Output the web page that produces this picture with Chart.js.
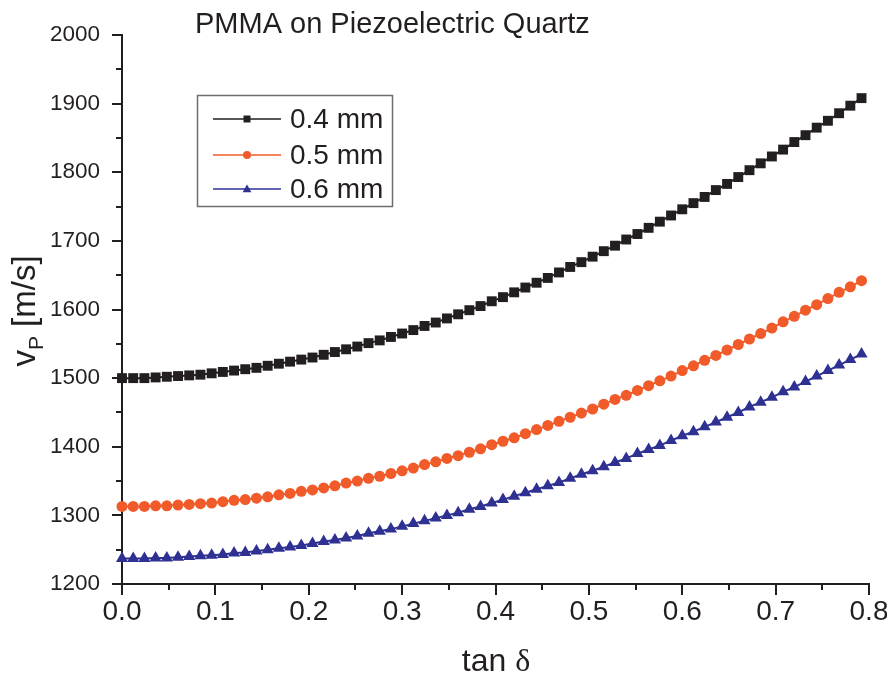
<!DOCTYPE html>
<html>
<head>
<meta charset="utf-8">
<script src="https://cdn.jsdelivr.net/npm/chart.js@4.4.1/dist/chart.umd.min.js"></script>
<style>
  body { margin: 0; background: #fff; }
  canvas { display: block; }
</style>
</head>
<body>
<canvas id="vpChart" width="887" height="677"></canvas>
<script>
// tan delta values (x)
const tanDelta = [
    0.000, 0.012, 0.024, 0.036, 0.048, 0.060, 0.072, 0.084, 0.096, 0.108,
    0.120, 0.132, 0.144, 0.156, 0.168, 0.180, 0.192, 0.204, 0.216, 0.228,
    0.240, 0.252, 0.264, 0.276, 0.288, 0.300, 0.312, 0.324, 0.336, 0.348,
    0.360, 0.372, 0.384, 0.396, 0.408, 0.420, 0.432, 0.444, 0.456, 0.468,
    0.480, 0.492, 0.504, 0.516, 0.528, 0.540, 0.552, 0.564, 0.576, 0.588,
    0.600, 0.612, 0.624, 0.636, 0.648, 0.660, 0.672, 0.684, 0.696, 0.708,
    0.720, 0.732, 0.744, 0.756, 0.768, 0.780, 0.792
];

// vP [m/s] for each thickness
const vp04 = [
    1500, 1500, 1500, 1501, 1502, 1503, 1504, 1505, 1507, 1509,
    1511, 1513, 1515, 1518, 1521, 1524, 1527, 1530, 1534, 1538,
    1542, 1546, 1551, 1555, 1560, 1565, 1570, 1576, 1581, 1587,
    1593, 1599, 1605, 1612, 1618, 1625, 1632, 1639, 1646, 1654,
    1662, 1669, 1677, 1685, 1693, 1702, 1710, 1719, 1728, 1737,
    1746, 1755, 1764, 1774, 1783, 1793, 1803, 1813, 1823, 1833,
    1844, 1854, 1865, 1875, 1886, 1897, 1908
];
const vp05 = [
    1313, 1313, 1313, 1314, 1314, 1315, 1316, 1317, 1318, 1320,
    1322, 1323, 1325, 1327, 1330, 1332, 1335, 1337, 1340, 1343,
    1347, 1350, 1354, 1357, 1361, 1365, 1369, 1374, 1378, 1383,
    1387, 1392, 1397, 1403, 1408, 1413, 1419, 1425, 1431, 1437,
    1443, 1449, 1455, 1462, 1469, 1475, 1482, 1489, 1496, 1503,
    1511, 1518, 1526, 1533, 1541, 1549, 1557, 1565, 1573, 1582,
    1590, 1599, 1607, 1616, 1625, 1633, 1642
];
const vp06 = [
    1237, 1237, 1237, 1238, 1238, 1239, 1240, 1241, 1242, 1243,
    1245, 1246, 1248, 1250, 1252, 1254, 1256, 1259, 1262, 1264,
    1267, 1270, 1274, 1277, 1280, 1284, 1288, 1292, 1296, 1300,
    1304, 1309, 1313, 1318, 1323, 1328, 1333, 1338, 1343, 1348,
    1354, 1360, 1365, 1371, 1377, 1383, 1390, 1396, 1402, 1409,
    1416, 1422, 1429, 1436, 1443, 1450, 1458, 1465, 1472, 1480,
    1487, 1495, 1503, 1511, 1519, 1527, 1535
];

const seriesLabels = ['0.4 mm', '0.5 mm', '0.6 mm'];
const seriesColors = ['#231f20', '#f15a29', '#2e3192'];
const seriesStyles = ['rect', 'circle', 'triangle'];
const seriesRadius = [7, 5.5, 7];

const axisColor = '#231f20';

const toPoints = (ys) => tanDelta.map((x, i) => ({ x: x, y: ys[i] }));

// outward tick marks, long for labelled ticks, short for the ones between
const tickMarks = {
    id: 'tickMarks',
    afterDraw(chart) {
        const ctx = chart.ctx;
        const xs = chart.scales.x;
        const ys = chart.scales.y;
        ctx.save();
        ctx.strokeStyle = axisColor;
        ctx.lineWidth = 2;
        ys.ticks.forEach(t => {
            const py = Math.round(ys.getPixelForValue(t.value));
            const len = (Math.round(t.value) % 100 === 0) ? 10 : 6;
            ctx.beginPath();
            ctx.moveTo(ys.right - len, py);
            ctx.lineTo(ys.right, py);
            ctx.stroke();
        });
        xs.ticks.forEach(t => {
            const px = Math.round(xs.getPixelForValue(t.value));
            const major = Math.abs(t.value * 10 - Math.round(t.value * 10)) < 1e-6;
            ctx.beginPath();
            ctx.moveTo(px, xs.top);
            ctx.lineTo(px, xs.top + (major ? 11 : 6));
            ctx.stroke();
        });
        ctx.restore();
    }
};

function drawMarker(ctx, style, x, y, r) {
    ctx.beginPath();
    if (style === 'rect') {
        ctx.rect(x - r, y - r, 2 * r, 2 * r);
    } else if (style === 'circle') {
        ctx.arc(x, y, r, 0, Math.PI * 2);
    } else {
        ctx.moveTo(x, y - r * 1.1);
        ctx.lineTo(x + r * 1.1, y + r * 0.8);
        ctx.lineTo(x - r * 1.1, y + r * 0.8);
        ctx.closePath();
    }
    ctx.fill();
}

// titles, y label with subscript, boxed legend
const annotations = {
    id: 'annotations',
    afterDraw(chart) {
        const ctx = chart.ctx;
        ctx.save();
        ctx.fillStyle = axisColor;
        ctx.textBaseline = 'alphabetic';
        ctx.textAlign = 'left';

        ctx.font = '29px "Liberation Sans", Arial, sans-serif';
        ctx.fillText('PMMA on Piezoelectric Quartz', 195, 33);

        // x axis title
        ctx.font = '32px "Liberation Sans Narrow", "Liberation Sans", sans-serif';
        const tanW = ctx.measureText('tan ').width;
        ctx.font = '32px "Liberation Serif", "DejaVu Serif", serif';
        const dW = ctx.measureText('δ').width;
        const x0 = 496 - (tanW + dW) / 2;
        ctx.font = '32px "Liberation Sans Narrow", "Liberation Sans", sans-serif';
        ctx.fillText('tan ', x0, 671);
        ctx.font = '32px "Liberation Serif", "DejaVu Serif", serif';
        ctx.fillText('δ', x0 + tanW, 671);

        // y axis title, rotated
        ctx.translate(35, 311);
        ctx.rotate(-Math.PI / 2);
        const big = '33px "Liberation Sans", Arial, sans-serif';
        const small = '21px "Liberation Sans", Arial, sans-serif';
        ctx.font = big;
        const vW = ctx.measureText('v').width;
        const restW = ctx.measureText(' [m/s]').width;
        ctx.font = small;
        const pW = ctx.measureText('P').width;
        let cx = -(vW + pW + restW) / 2;
        ctx.font = big;
        ctx.fillText('v', cx, 0);
        cx += vW;
        ctx.font = small;
        ctx.fillText('P', cx, 8);
        cx += pW;
        ctx.font = big;
        ctx.fillText(' [m/s]', cx, 0);
        ctx.setTransform(1, 0, 0, 1, 0, 0);

        // legend
        ctx.strokeStyle = '#6d6e71';
        ctx.lineWidth = 1.5;
        ctx.strokeRect(197.5, 95.5, 195, 111);
        const rows = [119, 155, 189];
        ctx.font = '28px "Liberation Sans", Arial, sans-serif';
        ctx.textBaseline = 'middle';
        chart.data.datasets.forEach((ds, i) => {
            const y = rows[i];
            ctx.strokeStyle = ds.borderColor;
            ctx.lineWidth = 1.5;
            ctx.beginPath();
            ctx.moveTo(213, y);
            ctx.lineTo(281, y);
            ctx.stroke();
            ctx.fillStyle = ds.borderColor;
            drawMarker(ctx, seriesStyles[i], 247, y, i === 0 ? 3.5 : 4);
            ctx.fillStyle = axisColor;
            ctx.fillText(ds.label, 290, y + 1);
        });
        ctx.restore();
    }
};

new Chart(document.getElementById('vpChart'), {
    type: 'line',
    data: {
        datasets: [vp04, vp05, vp06].map((ys, i) => ({
            label: seriesLabels[i],
            data: toPoints(ys),
            borderColor: seriesColors[i],
            backgroundColor: seriesColors[i],
            borderWidth: 2,
            pointStyle: seriesStyles[i],
            pointRadius: seriesRadius[i],
            pointBorderWidth: 0,
            pointBackgroundColor: seriesColors[i],
            tension: 0,
            clip: false
        }))
    },
    plugins: [tickMarks, annotations],
    options: {
        responsive: false,
        animation: false,
        events: [],
        layout: {
            padding: { left: 0, right: 18, top: 35, bottom: 0 }
        },
        plugins: {
            legend: { display: false },
            title: { display: false },
            tooltip: { enabled: false }
        },
        scales: {
            x: {
                type: 'linear',
                min: 0,
                max: 0.8,
                grid: { display: false, drawTicks: false, tickLength: 0 },
                border: { display: true, color: axisColor, width: 2 },
                ticks: {
                    stepSize: 0.05,
                    autoSkip: false,
                    maxRotation: 0,
                    padding: 11,
                    color: axisColor,
                    font: { family: '"Liberation Sans Narrow", "Liberation Sans", sans-serif', size: 28 },
                    callback: (v) => Math.abs(v * 10 - Math.round(v * 10)) < 1e-6 ? v.toFixed(1) : ''
                },
                afterFit: (scale) => {
                    scale.height = 93;
                    scale.paddingLeft = 0;
                    scale.paddingRight = 0;
                }
            },
            y: {
                min: 1200,
                max: 2000,
                grid: { display: false, drawTicks: false, tickLength: 0 },
                border: { display: true, color: axisColor, width: 2 },
                ticks: {
                    stepSize: 50,
                    autoSkip: false,
                    padding: 22,
                    color: axisColor,
                    font: { family: '"Liberation Sans", Arial, sans-serif', size: 22.5 },
                    callback: (v) => (Math.round(v) % 100 === 0) ? String(v) : ''
                },
                afterFit: (scale) => {
                    scale.width = 122;
                    scale.paddingTop = 0;
                    scale.paddingBottom = 0;
                }
            }
        }
    }
});
</script>
</body>
</html>
